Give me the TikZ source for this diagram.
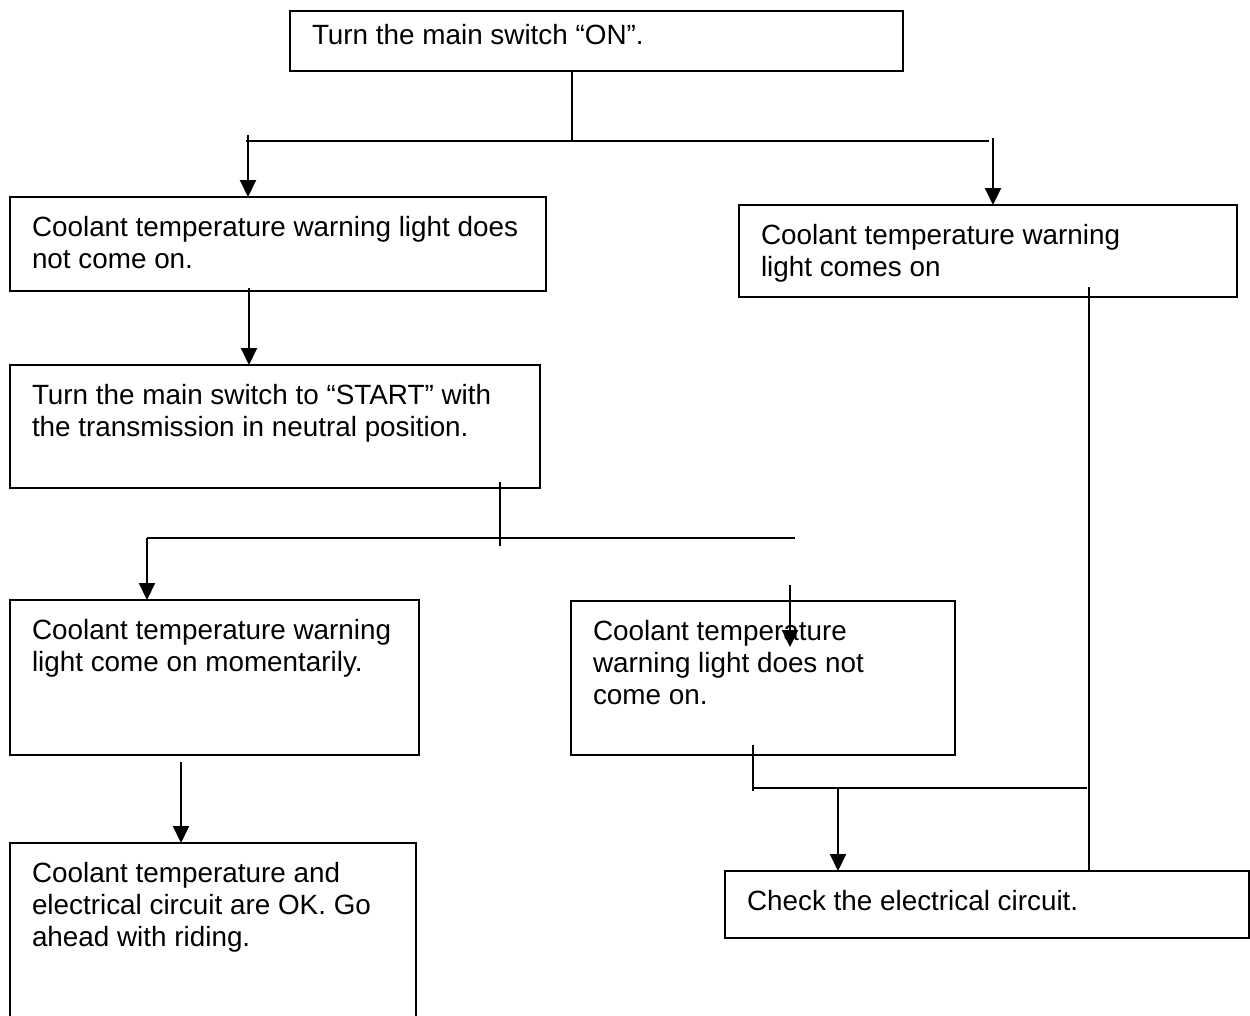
\documentclass[tikz,border=0pt]{standalone}
\usepackage{fontspec}
\setmainfont{Liberation Sans}
\usetikzlibrary{arrows.meta}
\newcommand\bxt[3]{\parbox[c][\dimexpr#2pt-33.2pt\relax][t]{\dimexpr#1pt-44pt\relax}{\raggedright\strut #3}}
\tikzset{
  bx/.style={draw, line width=2pt, anchor=north west, inner xsep=22pt, inner ysep=16.6pt, outer sep=0pt},
  ln/.style={line width=2.1pt},
  arr/.style={line width=2.1pt, -{Triangle[length=17pt,width=16pt]}}
}
\begin{document}
\begin{tikzpicture}[x=1pt, y=-1pt, font=\fontsize{27.85}{32}\selectfont]
\useasboundingbox (0,0) rectangle (1250,1015);
\clip (0,0) rectangle (1250,1015);
% boxes
\node[bx, inner ysep=10.6pt] (b0) at (290,11) {\parbox[c][\dimexpr 60pt-21.2pt\relax][t]{569pt}{\strut Turn the main switch “ON”.}};
\node[bx] (b1) at (10,197) {\bxt{536}{94}{Coolant temperature warning light does\\ not come on.}};
\node[bx] (b2) at (739,205) {\bxt{498}{92}{Coolant temperature warning\\ light comes on}};
\node[bx] (b3) at (10,365) {\bxt{530}{123}{Turn the main switch to “START” with\\ the transmission in neutral position.}};
\node[bx] (b4) at (10,600) {\bxt{409}{155}{Coolant temperature warning\\ light come on momentarily.}};
\node[bx] (b5) at (571,601) {\bxt{384}{154}{Coolant temperature\\ warning light does not\\ come on.}};
\node[bx] (b6) at (10,843) {\bxt{406}{200}{Coolant temperature and\\ electrical circuit are OK. Go\\ ahead with riding.}};
\node[bx] (b7) at (725,871) {\bxt{524}{67}{Check the electrical circuit.}};
% junction coordinates
\coordinate (j1) at (572,141);
\coordinate (h1a) at (246,141);
\coordinate (h1b) at (989,141);
\coordinate (aL) at (248,135);
\coordinate (aR) at (993,138);
\coordinate (aM) at (249,288);
\coordinate (j2a) at (500,482);
\coordinate (j2b) at (500,546);
\coordinate (h2a) at (147,538);
\coordinate (h2b) at (795,538);
\coordinate (aIn) at (790,585);
\coordinate (aInEnd) at (790,647);
\coordinate (aB) at (181,762);
\coordinate (t3a) at (753,745);
\coordinate (t3b) at (753,791);
\coordinate (h3a) at (753,788);
\coordinate (h3b) at (1087,788);
\coordinate (a3) at (838,788);
\coordinate (rv) at (1089,287);
% connectors
\draw[ln] (j1 |- b0.south) -- (j1);
\draw[ln] (h1a) -- (h1b);
\draw[arr] (aL) -- (aL |- b1.north);
\draw[arr] (aR) -- (aR |- b2.north);
\draw[arr] (aM) -- (aM |- b3.north);
\draw[ln] (j2a) -- (j2b);
\draw[ln] (h2a) -- (h2b);
\draw[arr] (h2a) -- (h2a |- b4.north);
\draw[arr] (aIn) -- (aInEnd);
\draw[arr] (aB) -- (aB |- b6.north);
\draw[ln] (t3a) -- (t3b);
\draw[ln] (h3a) -- (h3b);
\draw[arr] (a3) -- (a3 |- b7.north);
\draw[ln] (rv) -- (rv |- b7.north);
\end{tikzpicture}
\end{document}
